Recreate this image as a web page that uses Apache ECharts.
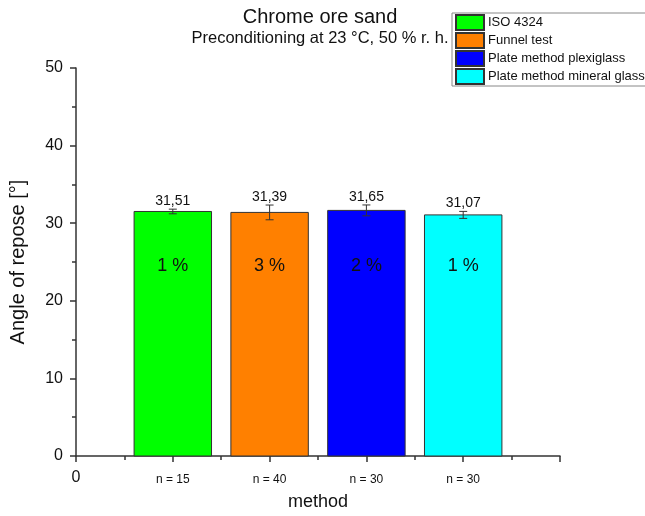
<!DOCTYPE html>
<html><head><meta charset="utf-8">
<script src="https://cdn.jsdelivr.net/npm/echarts@6/dist/echarts.min.js"></script>
<style>html,body{margin:0;padding:0;background:#fff}#c{width:645px;height:516px}</style>
</head><body><div id="c"></div>
<script>
const methods = ['ISO 4324', 'Funnel test', 'Plate method plexiglass', 'Plate method mineral glass'];
const positions = [1, 2, 3, 4];
const values = [31.51, 31.39, 31.65, 31.07];
const errors = [0.3, 0.95, 0.7, 0.45];
const percents = ['1 %', '3 %', '2 %', '1 %'];
const valueLabels = ['31,51', '31,39', '31,65', '31,07'];
const nLabels = ['n = 15', 'n = 40', 'n = 30', 'n = 30'];
const colors = ['#00ff00', '#ff8000', '#0000ff', '#00ffff'];
const pctLevel = 24.5;

const FONT = 'Liberation Sans, Arial, sans-serif';

function renderItem(params, api) {
  const x = api.value(0), v = api.value(1), e = api.value(2);
  const base = api.coord([x, 0]);
  const top = api.coord([x, v]);
  const w = api.size([0.8, 0])[0];
  const eTop = api.coord([x, v + e]);
  const eBot = api.coord([x, v - e]);
  const pct = api.coord([x, pctLevel]);
  const idx = params.seriesIndex;
  const capW = 4;
  const lineStyle = {stroke: '#333', lineWidth: 1};
  return {
    type: 'group',
    children: [
      {type: 'rect', shape: {x: base[0] - w / 2, y: top[1], width: w, height: base[1] - top[1]},
        style: {fill: colors[idx], stroke: '#333', lineWidth: 1}},
      {type: 'line', shape: {x1: top[0], y1: eTop[1], x2: top[0], y2: eBot[1]}, style: lineStyle},
      {type: 'line', shape: {x1: top[0] - capW, y1: eTop[1], x2: top[0] + capW, y2: eTop[1]}, style: lineStyle},
      {type: 'line', shape: {x1: top[0] - capW, y1: eBot[1], x2: top[0] + capW, y2: eBot[1]}, style: lineStyle},
      {type: 'text', x: top[0], y: eTop[1] - 1,
        style: {text: valueLabels[idx], fill: '#111', font: '14px ' + FONT, textAlign: 'center', textVerticalAlign: 'bottom'}},
      {type: 'text', x: top[0], y: pct[1],
        style: {text: percents[idx], fill: '#111', font: '18px ' + FONT, textAlign: 'center', textVerticalAlign: 'middle'}}
    ]
  };
}

const series = methods.map((m, i) => ({
  name: m,
  type: 'custom',
  renderItem: renderItem,
  itemStyle: {color: colors[i], borderColor: '#333', borderWidth: 1},
  data: [[positions[i], values[i], errors[i]]],
  encode: {x: 0, y: 1}
}));

const chart = echarts.init(document.getElementById('c'), null, {renderer: 'canvas'});
chart.setOption({
  animation: false,
  backgroundColor: '#fff',
  textStyle: {fontFamily: FONT},
  title: {
    text: 'Chrome ore sand',
    subtext: 'Preconditioning at 23 °C, 50 % r. h.',
    left: 315, top: 2, textAlign: 'center', itemGap: 3,
    textStyle: {fontSize: 20, fontWeight: 'normal', color: '#111', fontFamily: FONT},
    subtextStyle: {fontSize: 16.5, color: '#111', fontFamily: FONT}
  },
  legend: {
    orient: 'vertical', left: 452, top: 13,
    itemWidth: 28, itemHeight: 15, itemGap: 1,
    padding: [1, 4, 1, 3],
    borderColor: '#888', borderWidth: 1,
    icon: 'rect',
    textStyle: {fontSize: 13, lineHeight: 15, color: '#111', fontFamily: FONT, padding: [0, 0, 0, -1]},
    data: methods
  },
  grid: {left: 76, right: 85, top: 68, bottom: 59, containLabel: false},
  xAxis: {
    type: 'value', min: 0, max: 5, interval: 1,
    name: 'method', nameLocation: 'middle', nameGap: 37,
    nameTextStyle: {fontSize: 18, color: '#111', fontFamily: FONT},
    axisLine: {lineStyle: {color: '#333', width: 1.5}},
    axisTick: {show: true, length: 6, lineStyle: {color: '#333', width: 1.5}},
    minorTick: {show: true, splitNumber: 2, length: 4, lineStyle: {color: '#333', width: 1.5}},
    splitLine: {show: false},
    axisLabel: {
      margin: 14,
      formatter: function (v) {
        if (v === 0) return '{big|0}';
        const i = positions.indexOf(v);
        return i >= 0 ? '{sm|' + nLabels[i] + '}' : '';
      },
      rich: {
        big: {fontSize: 16, color: '#111', fontFamily: FONT},
        sm: {fontSize: 12, color: '#111', fontFamily: FONT, padding: [4, 0, 0, 0]}
      }
    }
  },
  yAxis: {
    type: 'value', min: 0, max: 50, interval: 10,
    name: 'Angle of repose [°]', nameLocation: 'middle', nameGap: 48,
    nameTextStyle: {fontSize: 20, color: '#111', fontFamily: FONT},
    axisLine: {show: true, lineStyle: {color: '#333', width: 1.5}},
    axisTick: {show: true, length: 6, lineStyle: {color: '#333', width: 1.5}},
    minorTick: {show: true, splitNumber: 2, length: 4, lineStyle: {color: '#333', width: 1.5}},
    splitLine: {show: false},
    axisLabel: {fontSize: 16, color: '#111', fontFamily: FONT, margin: 13}
  },
  series: series
});
</script>
</body></html>
